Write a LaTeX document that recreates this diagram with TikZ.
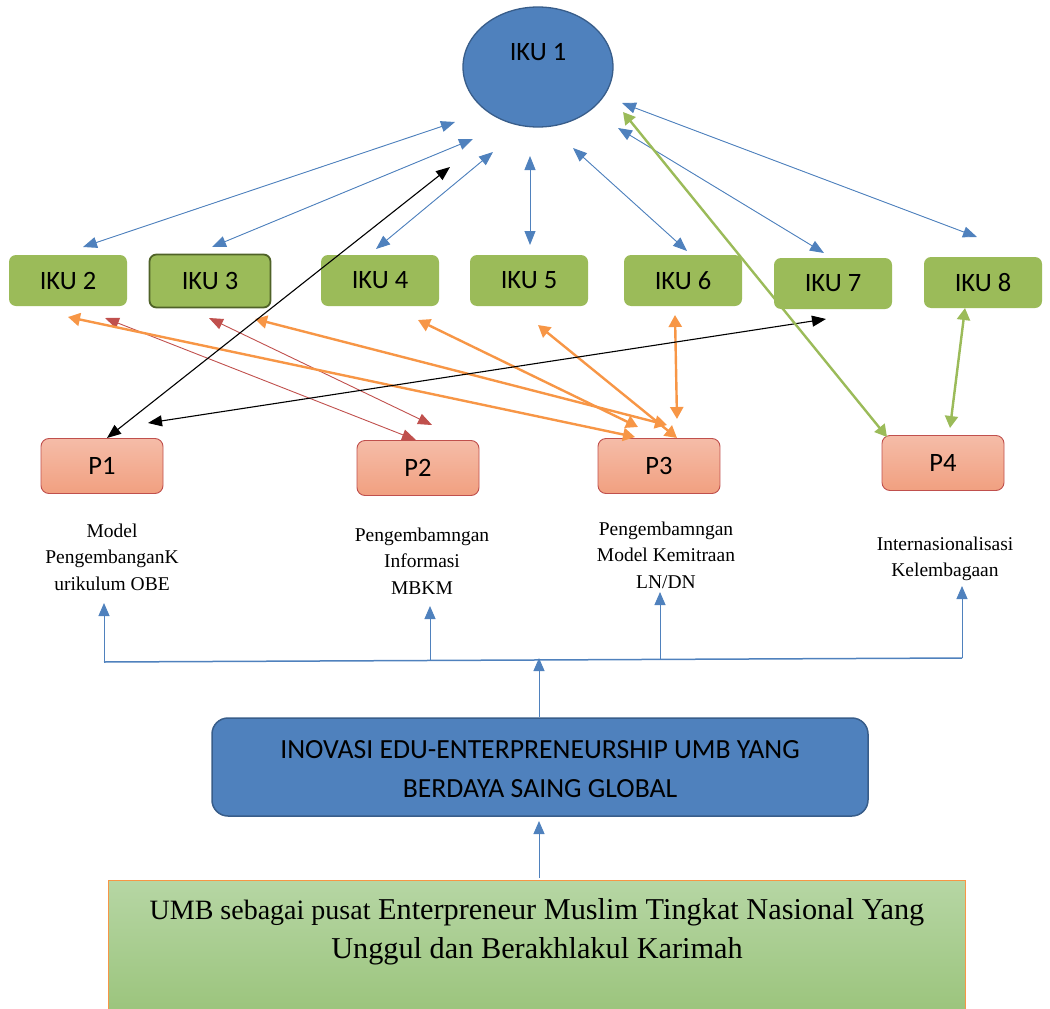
\documentclass[tikz,border=0pt]{standalone}
\usepackage{fontspec}
\setmainfont{Liberation Serif}
\newfontfamily\carl{Carlito}
\usetikzlibrary{shapes.geometric,arrows.meta,calc}
\definecolor{ikublue}{RGB}{79,129,189}
\definecolor{ikublueborder}{RGB}{56,93,138}
\definecolor{ikugreen}{RGB}{155,187,89}
\definecolor{olivedark}{RGB}{79,98,40}
\definecolor{pred}{RGB}{192,80,77}
\definecolor{ptop}{RGB}{245,188,168}
\definecolor{pbot}{RGB}{241,160,128}
\definecolor{orng}{RGB}{247,150,70}
\definecolor{gtop}{RGB}{182,214,164}
\definecolor{gbot}{RGB}{155,196,124}
\begin{document}
\begin{tikzpicture}[x=1pt,y=-1pt,
  ikubox/.style={rounded corners=7pt, fill=ikugreen, minimum width=118pt, minimum height=51pt,
    inner sep=0pt, font=\carl\fontsize{26.5}{30}\selectfont},
  pbox/.style={rounded corners=8pt, draw=pred, line width=0.9pt, top color=ptop, bottom color=pbot,
    minimum width=122pt, minimum height=55pt, inner sep=0pt, font=\carl\fontsize{26.5}{30}\selectfont},
  lbl/.style={align=center, font=\fontsize{19.5}{26.5}\selectfont, inner sep=0pt},
  tipthin/.tip={Triangle[length=14pt,width=11pt]},
  bluearr/.style={draw=ikublue, line width=0.9pt, tipthin-tipthin, fill=ikublue},
  blackarr/.style={draw=black, line width=1.1pt, tipthin-tipthin},
  redarr/.style={draw=pred, line width=0.9pt, tipthin-tipthin},
  orarr/.style={draw=orng, line width=2.4pt, {Triangle[length=12pt,width=13pt]}-{Triangle[length=12pt,width=13pt]}},
  grarr/.style={draw=ikugreen, line width=2.4pt, {Triangle[length=12pt,width=13pt]}-{Triangle[length=12pt,width=13pt]}},
  busline/.style={draw=ikublue, line width=1.5pt},
  uparr/.style={draw=ikublue, line width=1pt, -{Triangle[length=13pt,width=11pt]}}
]
\useasboundingbox (0,0) rectangle (1050,1009);

% IKU 1
\node[ellipse, draw=ikublueborder, line width=1.3pt, fill=ikublue, minimum width=150pt, minimum height=120pt] (iku1) at (538,67) {};
\node[font=\carl\fontsize{26.5}{30}\selectfont] (iku1t) at (538,52) {IKU 1};

% IKU boxes
\node[ikubox] (iku2) at (68,280.5) {IKU 2};
\node[ikubox, draw=olivedark, line width=1.8pt, minimum width=121pt, minimum height=53pt] (iku3) at (210,281) {IKU 3};
\node[ikubox] (iku4) at (380,280.5) {IKU 4};
\node[ikubox] (iku5) at (529,280.5) {IKU 5};
\node[ikubox] (iku6) at (683,280.5) {IKU 6};
\node[ikubox] (iku7) at (833,283.5) {IKU 7};
\node[ikubox] (iku8) at (983,282.5) {IKU 8};

% P boxes
\node[pbox] (p1) at (102,466) {P1};
\node[pbox] (p2) at (418,468) {P2};
\node[pbox] (p3) at (659,466) {P3};
\node[pbox] (p4) at (943,463) {P4};

% Labels
\node[lbl] (l1) at (112,557) {Model\\PengembanganK\\urikulum OBE};
\node[lbl] (l2) at (422,561) {Pengembamngan\\Informasi\\MBKM};
\node[lbl] (l3) at (666,555) {Pengembamngan\\Model Kemitraan\\LN/DN};
\node[lbl] (l4) at (945,559) {Internasionalisasi\\Kelembagaan};

% Bottom boxes
\node[rounded corners=16pt, draw=ikublueborder, line width=1.5pt, fill=ikublue, minimum width=656pt, minimum height=98pt] (inov) at (540,767) {};
\node[align=center, font=\carl\fontsize{27.7}{39}\selectfont] (inovt) at (540,769) {INOVASI EDU-ENTERPRENEURSHIP UMB YANG\\BERDAYA SAING GLOBAL};
\node[draw=orng, line width=1pt, top color=gtop, bottom color=gbot, minimum width=857pt, minimum height=134pt, inner sep=0pt] (umb) at (536.5,947) {};
\node[align=center, font=\fontsize{30.3}{39}\selectfont] (umbt) at (537,932) {{\fontsize{28}{39}\selectfont UMB sebagai pusat} Enterpreneur Muslim Tingkat Nasional Yang\\Unggul dan Berakhlakul Karimah};

% connector end points
\coordinate (a2t) at (455,122); \coordinate (a2b) at (83,247);
\coordinate (a3t) at (473,139); \coordinate (a3b) at (212,247);
\coordinate (a4t) at (493,152); \coordinate (a4b) at (376,249);
\coordinate (a5t) at (530,156); \coordinate (a5b) at (530,245);
\coordinate (a6t) at (573,148); \coordinate (a6b) at (687,251);
\coordinate (a7t) at (618,128); \coordinate (a7b) at (824,253);
\coordinate (a8t) at (622,103); \coordinate (a8b) at (977,237);
\coordinate (k1a) at (450,167); \coordinate (k1b) at (107,438);
\coordinate (k2a) at (148,423); \coordinate (k2b) at (826,319);
\coordinate (r1a) at (105,318); \coordinate (r1b) at (416,440);
\coordinate (r2a) at (209,318); \coordinate (r2b) at (432,425);
\coordinate (o2a) at (68,317);  \coordinate (o2b) at (635,437);
\coordinate (o3a) at (255,319); \coordinate (o3b) at (667,425);
\coordinate (o4a) at (418,320); \coordinate (o4b) at (638,427);
\coordinate (o5a) at (538,325); \coordinate (o5b) at (677,438);
\coordinate (o6a) at (675,315); \coordinate (o6b) at (677,419);
\coordinate (g1a) at (623,112); \coordinate (g1b) at (887,437);
\coordinate (g2a) at (965,308); \coordinate (g2b) at (950,428);
\coordinate (bus1) at (104,662); \coordinate (bus4) at (962,658);
\coordinate (bus2) at (430,660.5); \coordinate (bus3) at (660,659.5);
\coordinate (t1) at (104,603); \coordinate (t2) at (430,606);
\coordinate (t3) at (660,592); \coordinate (t4) at (962,586);
\coordinate (busmid) at (539,658);
\coordinate (inovtop) at (539,717);
\coordinate (inovbot) at (539,821);
\coordinate (umbtop) at (539,878);

% blue IKU1 arrows
\draw[bluearr] (a2t) -- (a2b);
\draw[bluearr] (a3t) -- (a3b);
\draw[bluearr] (a4t) -- (a4b);
\draw[bluearr] (a5t) -- (a5b);
\draw[bluearr] (a6t) -- (a6b);
\draw[bluearr] (a7t) -- (a7b);
\draw[bluearr] (a8t) -- (a8b);

% red
\draw[redarr] (r1a) -- (r1b);
\draw[redarr] (r2a) -- (r2b);

% orange
\draw[orarr] (o2a) -- (o2b);
\draw[orarr] (o3a) -- (o3b);
\draw[orarr] (o4a) -- (o4b);
\draw[orarr] (o5a) -- (o5b);
\draw[orarr] (o6a) -- (o6b);

% black
\draw[blackarr] (k1a) -- (k1b);
\draw[blackarr] (k2a) -- (k2b);

% green
\draw[grarr] (g1a) -- (g1b);
\draw[grarr] (g2a) -- (g2b);

% bottom bus
\draw[busline] (bus1) -- (bus4);
\draw[uparr] (bus1) -- (t1);
\draw[uparr] (bus2) -- (t2);
\draw[uparr] (bus3) -- (t3);
\draw[uparr] (bus4) -- (t4);
\draw[uparr] (inovtop) -- (busmid);
\draw[uparr] (umbtop) -- (inovbot);
\end{tikzpicture}
\end{document}
